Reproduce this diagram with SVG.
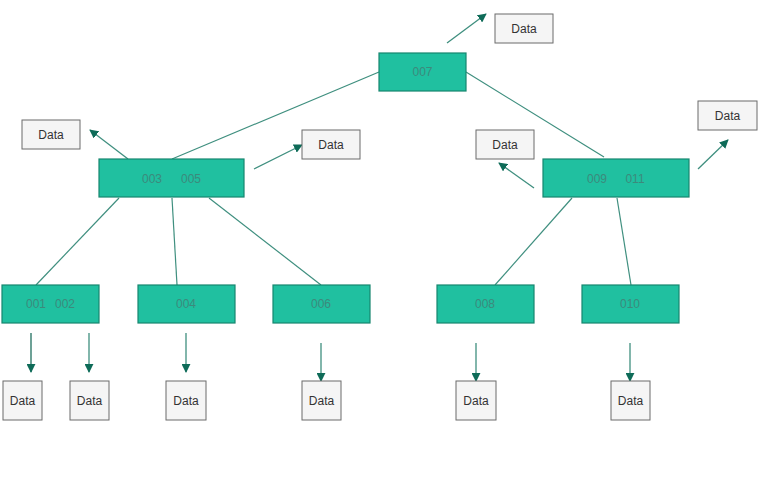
<svg xmlns="http://www.w3.org/2000/svg" width="783" height="483" viewBox="0 0 783 483">
<defs>
<style>
.node{fill:#20c0a0;stroke:#17866f;stroke-width:1.2}
.nt{font-family:"Liberation Sans",Arial,sans-serif;font-size:12px;fill:#3c8a7c;text-anchor:middle}
.data{fill:#f5f5f5;stroke:#6b6b6b;stroke-width:1}
.dt{font-family:"Liberation Sans",Arial,sans-serif;font-size:12px;fill:#333;text-anchor:middle}
.edge{stroke:#3f8f7f;stroke-width:1.2;fill:none}
.arr{stroke:#3f8f7f;stroke-width:1.3;fill:none;marker-end:url(#ah)}
</style>
<marker id="ah" viewBox="0 0 10 10" refX="9" refY="5" markerWidth="9" markerHeight="9" markerUnits="userSpaceOnUse" orient="auto">
<path d="M0,0 L10,5 L0,10 z" fill="#0e6b58"/>
</marker>
</defs>
<rect width="783" height="483" fill="#fff"/>
<g id="connectors">
<line class="edge" x1="172" y1="159" x2="379" y2="72"/>
<line class="edge" x1="466" y1="72" x2="604" y2="157"/>
<line class="edge" x1="119" y1="198" x2="36" y2="285"/>
<line class="edge" x1="172" y1="198" x2="177" y2="285"/>
<line class="edge" x1="209" y1="198" x2="321" y2="285"/>
<line class="edge" x1="572" y1="198" x2="495" y2="285"/>
<line class="edge" x1="617" y1="198" x2="631" y2="285"/>
<line class="arr" x1="447" y1="43" x2="486" y2="14"/>
<line class="arr" x1="128" y1="159" x2="90" y2="130"/>
<line class="arr" x1="254" y1="169" x2="302" y2="145"/>
<line class="arr" x1="534" y1="188" x2="499" y2="163"/>
<line class="arr" x1="698" y1="169" x2="728" y2="140"/>
<line class="arr" x1="31" y1="333" x2="31" y2="372" style="stroke:#1f6f5f"/>
<line class="arr" x1="89" y1="333" x2="89" y2="372"/>
<line class="arr" x1="186" y1="333" x2="186" y2="372"/>
<line class="arr" x1="321" y1="343" x2="321" y2="381"/>
<line class="arr" x1="476" y1="343" x2="476" y2="381"/>
<line class="arr" x1="630" y1="343" x2="630" y2="381"/>
</g>
<g id="n007"><rect class="node" x="379" y="53" width="87" height="38"/><text class="nt" x="422.5" y="76">007</text></g>
<g id="n003"><rect class="node" x="99" y="159" width="145" height="38"/><text class="nt" x="152" y="183">003</text><text class="nt" x="191" y="183">005</text></g>
<g id="n009"><rect class="node" x="543" y="159" width="146" height="38"/><text class="nt" x="597" y="183">009</text><text class="nt" x="635" y="183">011</text></g>
<g id="n001"><rect class="node" x="2" y="285" width="97" height="38"/><text class="nt" x="36" y="308">001</text><text class="nt" x="65" y="308">002</text></g>
<g id="n004"><rect class="node" x="138" y="285" width="97" height="38"/><text class="nt" x="186" y="308">004</text></g>
<g id="n006"><rect class="node" x="273" y="285" width="97" height="38"/><text class="nt" x="321" y="308">006</text></g>
<g id="n008"><rect class="node" x="437" y="285" width="97" height="38"/><text class="nt" x="485" y="308">008</text></g>
<g id="n010"><rect class="node" x="582" y="285" width="97" height="38"/><text class="nt" x="630" y="308">010</text></g>
<g id="d007"><rect class="data" x="495" y="14" width="58" height="29"/><text class="dt" x="524" y="33">Data</text></g>
<g id="d003l"><rect class="data" x="22" y="120" width="58" height="29"/><text class="dt" x="51" y="139">Data</text></g>
<g id="d003r"><rect class="data" x="302" y="130" width="58" height="29"/><text class="dt" x="331" y="149">Data</text></g>
<g id="d009l"><rect class="data" x="476" y="130" width="58" height="29"/><text class="dt" x="505" y="149">Data</text></g>
<g id="d009r"><rect class="data" x="698" y="101" width="59" height="29"/><text class="dt" x="727.5" y="120">Data</text></g>
<g id="d1"><rect class="data" x="3" y="381" width="39" height="39"/><text class="dt" x="22.5" y="405">Data</text></g>
<g id="d2"><rect class="data" x="70" y="381" width="39" height="39"/><text class="dt" x="89.5" y="405">Data</text></g>
<g id="d3"><rect class="data" x="166" y="381" width="40" height="39"/><text class="dt" x="186" y="405">Data</text></g>
<g id="d4"><rect class="data" x="302" y="381" width="39" height="39"/><text class="dt" x="321.5" y="405">Data</text></g>
<g id="d5"><rect class="data" x="456" y="381" width="40" height="39"/><text class="dt" x="476" y="405">Data</text></g>
<g id="d6"><rect class="data" x="611" y="381" width="39" height="39"/><text class="dt" x="630.5" y="405">Data</text></g>
</svg>
